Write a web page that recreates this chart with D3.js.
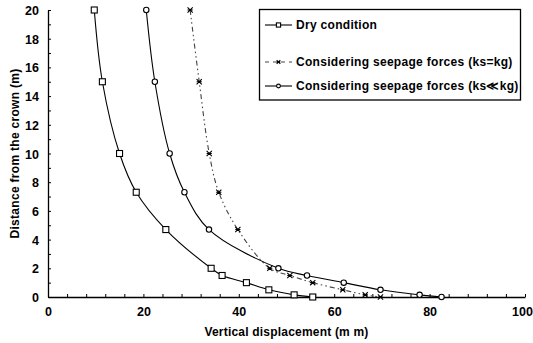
<!DOCTYPE html>
<html>
<head>
<meta charset="utf-8">
<script src="https://cdn.jsdelivr.net/npm/d3@7"></script>
<style>
  html, body { margin: 0; padding: 0; background: #fff; }
  svg { display: block; }
  text { font-family: "Liberation Sans", Arial, sans-serif; font-weight: bold; fill: #000; }
</style>
</head>
<body>
<svg id="chart" width="533" height="343"></svg>
<script>
// Distance from the crown (m) at each measurement depth
const distances = [20, 15, 10, 7.3, 4.7, 2, 1.5, 1, 0.5, 0.15, 0];

// Vertical displacement (mm) for each case
const dryCondition   = [9.7, 11.4, 15.0, 18.5, 24.7, 34.2, 36.5, 41.6, 46.3, 51.6, 55.5];
const seepageEqual   = [29.8, 31.7, 33.8, 35.8, 39.8, 46.5, 50.7, 55.5, 61.8, 66.5, 69.7];
const seepageSmaller = [20.6, 22.4, 25.5, 28.6, 33.75, 48.3, 54.3, 62.0, 69.7, 77.9, 82.5];

const seriesNames = [
  "Dry condition",
  "Considering seepage forces (ks=kg)",
  "Considering seepage forces (ks\u226Akg)"
];

const xTickLabels = [0, 20, 40, 60, 80, 100];
const yTickLabels = [0, 2, 4, 6, 8, 10, 12, 14, 16, 18, 20];

const svg = d3.select("#chart");
const margin = { left: 48, right: 8, top: 10, bottom: 46 };
const W = 533, H = 343;

const x = d3.scaleLinear().domain([0, 100]).range([margin.left, W - margin.right]);
const y = d3.scaleLinear().domain([0, 20]).range([H - margin.bottom, margin.top]);

// Axes: ticks point inward, labels only at the major values
const xAxis = d3.axisBottom(x)
  .tickValues(d3.range(0, 101, 4))
  .tickSizeInner(-3).tickSizeOuter(0)
  .tickFormat(d => xTickLabels.includes(d) ? d : "");
const gx = svg.append("g").attr("transform", `translate(0,${y(0)})`).call(xAxis)
  .attr("font-family", null).attr("font-size", null);
gx.select(".domain").attr("stroke", "#000").attr("stroke-width", 1.3);
gx.selectAll(".tick line").attr("stroke", "#000");
gx.selectAll(".tick text")
  .attr("y", 14).attr("dy", "0.36em").attr("font-size", 12.5)
  .attr("dx", d => d === 100 ? -3 : 0);

const yAxis = d3.axisLeft(y)
  .tickValues(d3.range(0, 21, 1))
  .tickSizeInner(-3).tickSizeOuter(0)
  .tickFormat(d => yTickLabels.includes(d) ? d : "");
const gy = svg.append("g").attr("transform", `translate(${x(0)},0)`).call(yAxis)
  .attr("font-family", null).attr("font-size", null);
gy.select(".domain").attr("stroke", "#000").attr("stroke-width", 1.3);
gy.selectAll(".tick line").attr("stroke", "#000");
gy.selectAll(".tick text").attr("x", -9).attr("dy", "0.36em").attr("font-size", 12.5);

// Axis titles
svg.append("text")
  .attr("x", (x(0) + x(100)) / 2).attr("y", 332).attr("dy", "0.36em")
  .attr("text-anchor", "middle").attr("font-size", 12).attr("letter-spacing", 0.2)
  .text("Vertical displacement (m m)");
svg.append("text")
  .attr("transform", `translate(15,${(y(0) + y(20)) / 2}) rotate(-90)`)
  .attr("dy", "0.36em")
  .attr("text-anchor", "middle").attr("font-size", 12).attr("letter-spacing", 0.3)
  .text("Distance from the crown (m)");

const line = d3.line()
  .x(d => x(d[0])).y(d => y(d[1]))
  .curve(d3.curveCatmullRom.alpha(0.5));

function pts(vals) { return vals.map((v, i) => [v, distances[i]]); }

// Marker drawing helpers
function square(g, cx, cy, k = 1) {
  const s = 3 * k;
  g.append("rect").attr("x", cx - s).attr("y", cy - s).attr("width", 2 * s).attr("height", 2 * s)
    .attr("fill", "#fff").attr("stroke", "#000").attr("stroke-width", 1.1);
}
function circle(g, cx, cy, k = 1) {
  g.append("circle").attr("cx", cx).attr("cy", cy).attr("r", 2.7 * k)
    .attr("fill", "#fff").attr("stroke", "#000").attr("stroke-width", 1.1);
}
function star(g, cx, cy, k = 1) {
  const s = 2.6 * k;
  g.append("path")
    .attr("d", `M${cx - s},${cy - s}L${cx + s},${cy + s}M${cx - s},${cy + s}L${cx + s},${cy - s}M${cx - s},${cy}L${cx + s},${cy}`)
    .attr("stroke", "#000").attr("stroke-width", 1.1).attr("fill", "none");
}

const series = [
  { vals: dryCondition,   dash: null,              color: "#000", width: 1.1, marker: square },
  { vals: seepageEqual,   dash: "5,3,1.5,3,1.5,3", color: "#444", width: 1.1, marker: star },
  { vals: seepageSmaller, dash: null,              color: "#000", width: 1.1, marker: circle }
];

series.forEach(s => {
  const g = svg.append("g");
  g.append("path").datum(pts(s.vals))
    .attr("d", line).attr("fill", "none")
    .attr("stroke", s.color).attr("stroke-width", s.width)
    .attr("stroke-dasharray", s.dash);
  pts(s.vals).forEach(p => s.marker(g, x(p[0]), y(p[1])));
});

// Legend
const lg = svg.append("g");
lg.append("rect").attr("x", 259.5).attr("y", 9.5).attr("width", 261).attr("height", 90.5)
  .attr("fill", "#fff").attr("stroke", "#000").attr("stroke-width", 1.3);
const rowsY = [25, 62, 86];
series.forEach((s, i) => {
  const yy = rowsY[i];
  lg.append("path").attr("d", `M265,${yy}H292`)
    .attr("stroke", s.color).attr("stroke-width", s.width)
    .attr("stroke-dasharray", s.dash ? "4,4" : null);
  s.marker(lg, 278.5, yy, 0.7);
  lg.append("text").attr("x", 296).attr("y", yy).attr("dy", "0.36em")
    .attr("font-size", 12).attr("letter-spacing", 0.3).text(seriesNames[i]);
});
</script>
</body>
</html>
